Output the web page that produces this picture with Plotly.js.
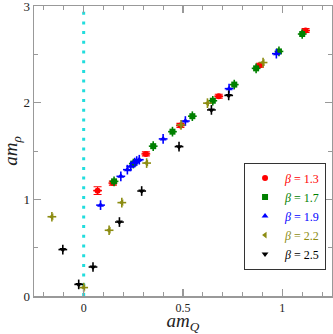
<!DOCTYPE html>
<html>
<head>
<meta charset="utf-8">
<script src="https://cdn.plot.ly/plotly-3.0.1.min.js"></script>
<style>
  html, body { margin: 0; padding: 0; background: #fff; }
  #chart { width: 333px; height: 334px; }
</style>
</head>
<body>
<div id="chart"></div>
<script>
// am_Q vs am_rho, one series per beta
const beta13X = [0.07, 0.147, 0.313, 0.487, 0.68, 0.887, 1.117];
const beta13Y = [1.09, 1.168, 1.47, 1.765, 2.067, 2.388, 2.747];
const beta13Err = [0.04, 0.02, 0.02, 0.02, 0.02, 0.02, 0.02];

const beta17X = [0.153, 0.25, 0.35, 0.447, 0.547, 0.65, 0.758, 0.868, 0.983, 1.10];
const beta17Y = [1.186, 1.37, 1.55, 1.70, 1.86, 2.02, 2.187, 2.355, 2.53, 2.71];

const beta19X = [0.085, 0.187, 0.22, 0.237, 0.257, 0.267, 0.28, 0.40, 0.512, 0.732, 0.97];
const beta19Y = [0.94, 1.238, 1.307, 1.341, 1.38, 1.396, 1.41, 1.625, 1.81, 2.145, 2.507];

const beta22X = [-0.16, 0.0, 0.128, 0.192, 0.317, 0.49, 0.623, 0.903];
const beta22Y = [0.82, 0.087, 0.68, 0.966, 1.375, 1.77, 1.995, 2.415];

const beta25X = [-0.105, -0.025, 0.047, 0.18, 0.292, 0.48, 0.643, 0.73];
const beta25Y = [0.48, 0.12, 0.30, 0.765, 1.086, 1.545, 1.925, 2.075];

const serif = 'Liberation Serif, DejaVu Serif, serif';

function series(x, y, label, color, symbol, yErr) {
  return {
    type: 'scatter',
    mode: 'markers',
    x: x,
    y: y,
    name: '<span style="color:' + color + '"><i>β</i> = ' + label + '</span>',
    marker: { color: color, symbol: symbol, size: 6 },
    error_x: { type: 'constant', value: 0.022, color: color, thickness: 1.6, width: 0 },
    error_y: yErr
      ? { type: 'data', array: yErr, color: color, thickness: 1.2, width: 4 }
      : { type: 'constant', value: 0.05, color: color, thickness: 1.6, width: 0 },
  };
}

const data = [
  series(beta13X, beta13Y, '1.3', '#ff0000', 'circle', beta13Err),
  series(beta17X, beta17Y, '1.7', '#008000', 'square'),
  series(beta19X, beta19Y, '1.9', '#0000ff', 'triangle-up'),
  series(beta22X, beta22Y, '2.2', '#8c8c12', 'triangle-left'),
  series(beta25X, beta25Y, '2.5', '#000000', 'triangle-down'),
];

const axisCommon = {
  showgrid: false,
  zeroline: false,
  showline: true,
  linecolor: '#999',
  linewidth: 1.5,
  mirror: 'allticks',
  ticks: 'inside',
  tickcolor: '#999',
  tickwidth: 1.2,
  ticklen: 7,
  ticklabeloverflow: 'allow',
  tickfont: { family: serif, size: 13, color: '#222' },
};

const layout = {
  width: 333,
  height: 334,
  margin: { l: 34, r: 1, t: 6, b: 38 },
  paper_bgcolor: '#fff',
  plot_bgcolor: '#fff',
  font: { family: serif },
  xaxis: Object.assign({}, axisCommon, {
    range: [-0.25, 1.25],
    tickvals: [0, 0.5, 1],
    ticktext: ['0', '0.5', '1'],
    tickfont: { family: serif, size: 12, color: '#222' },
    minor: { dtick: 0.1, ticks: 'inside', ticklen: 4, tickcolor: '#999', tickwidth: 1 },
    title: { text: '<i>am</i><sub><i>Q</i></sub>', font: { family: serif, size: 19, color: '#222' }, standoff: 6 },
  }),
  yaxis: Object.assign({}, axisCommon, {
    range: [0, 3],
    tickvals: [0, 1, 2, 3],
    minor: { dtick: 0.5, ticks: 'inside', ticklen: 4, tickcolor: '#999', tickwidth: 1 },
    title: { text: '<i>am</i><sub><i>ρ</i></sub>', font: { family: serif, size: 19, color: '#222' }, standoff: 7 },
  }),
  shapes: [{
    type: 'line', xref: 'x', yref: 'paper', x0: 0, x1: 0, y0: 0, y1: 1,
    line: { color: '#22dddd', width: 3, dash: '3px,6.7px' },
    layer: 'below',
  }],
  showlegend: true,
  legend: {
    x: 0.98, y: 0.46, xanchor: 'right', yanchor: 'top',
    bgcolor: '#fff', bordercolor: '#333', borderwidth: 1,
    font: { family: serif, size: 12 },
    itemwidth: 30,
    tracegroupgap: 0,
  },
};

Plotly.newPlot('chart', data, layout, { displayModeBar: false, staticPlot: true });
</script>
</body>
</html>
